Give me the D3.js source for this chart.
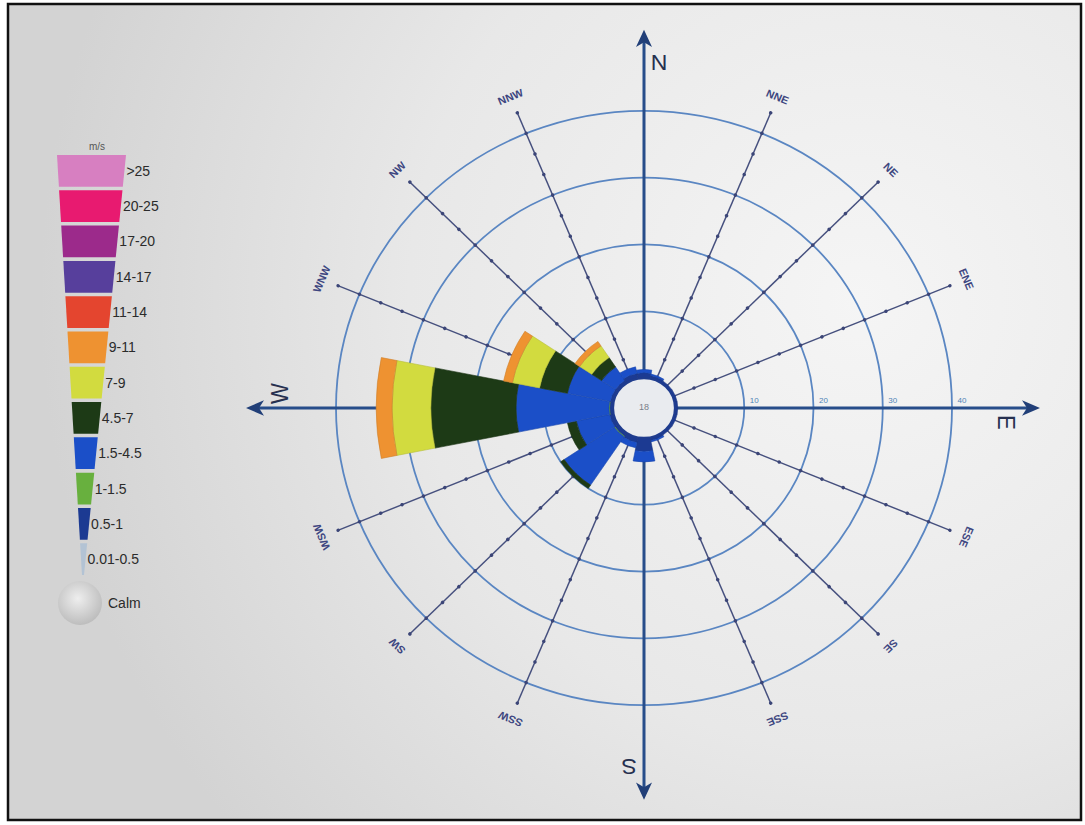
<!DOCTYPE html>
<html>
<head>
<meta charset="utf-8">
<script src="https://cdn.jsdelivr.net/npm/d3@7"></script>
<style>
  html, body { margin: 0; padding: 0; background: #ffffff; }
  svg { display: block; font-family: "Liberation Sans", Arial, sans-serif; }
</style>
</head>
<body>
<svg id="chart" width="1085" height="825"></svg>
<script>
// Compass sectors, clockwise from north
const directions = ["N","NNE","NE","ENE","E","ESE","SE","SSE","S","SSW","SW","WSW","W","WNW","NW","NNW"];

// Legend speed classes (m/s), top to bottom, and their colours
const speedBins  = [">25","20-25","17-20","14-17","11-14","9-11","7-9","4.5-7","1.5-4.5","1-1.5","0.5-1","0.01-0.5"];
const binColors  = ["#d77fc1","#e81a70","#9c2a8b","#573f9c","#e4452f","#ee9231","#d2db3f","#1d3a16","#1b4fc8","#68b03e","#1c3a92","#b3c3d4"];

// Frequency (%) per sector for each speed class that occurs
const freq_05_1  = [0.8,0.5,0.4,0.4,0.4,0.4,0.4,0.5,2.0,0.8,0.6,0.6,0.5,0.5,0.5,0.8];
const freq_1_15  = [0.0,0.0,0.0,0.0,0.0,0.0,0.0,0.0,0.0,0.0,0.1,0.0,0.1,0.0,0.0,0.0];
const freq_15_45 = [0.5,0.2,0.0,0.0,0.0,0.0,0.0,0.2,1.6,0.8,8.7,4.9,13.4,6.3,2.4,1.0];
const freq_45_7  = [0.0,0.0,0.0,0.0,0.0,0.0,0.0,0.0,0.0,0.0,0.6,1.3,12.3,4.1,1.7,0.0];
const freq_7_9   = [0.0,0.0,0.0,0.0,0.0,0.0,0.0,0.0,0.0,0.0,0.0,0.0,5.6,4.0,2.1,0.0];
const freq_9_11  = [0.0,0.0,0.0,0.0,0.0,0.0,0.0,0.0,0.0,0.0,0.0,0.0,2.3,1.3,0.8,0.0];

const calmValue  = 18;
const ringValues = [10, 20, 30, 40];

// stacking order from the centre outwards
const stackBins = ["0.5-1","1-1.5","1.5-4.5","4.5-7","7-9","9-11"];
const stackData = [freq_05_1, freq_1_15, freq_15_45, freq_45_7, freq_7_9, freq_9_11];

const svg = d3.select("#chart");
const W = 1085, H = 825;
const cx = 644, cy = 408;
const calmR = 31;
const squash = 0.965;   // the printed rose is slightly flatter vertically

const color = d3.scaleOrdinal().domain(speedBins).range(binColors);
const r = d3.scaleLinear().domain([0, 40]).range([calmR, 308]);
const angle = d3.scalePoint().domain(directions).range([0, 337.5]);
const sectorHalf = 11.25 * Math.PI / 180;

// ---- paper background and frame ----
const defs = svg.append("defs");
const bg = defs.append("radialGradient").attr("id", "paper")
  .attr("gradientUnits", "userSpaceOnUse")
  .attr("cx", 860).attr("cy", 300).attr("r", 820);
bg.append("stop").attr("offset", "0%").attr("stop-color", "#f5f5f5");
bg.append("stop").attr("offset", "55%").attr("stop-color", "#e8e8e8");
bg.append("stop").attr("offset", "100%").attr("stop-color", "#d3d3d3");

const calmGrad = defs.append("radialGradient").attr("id", "calmGrad")
  .attr("cx", "45%").attr("cy", "40%").attr("r", "65%");
calmGrad.append("stop").attr("offset", "0%").attr("stop-color", "#eeeeee");
calmGrad.append("stop").attr("offset", "100%").attr("stop-color", "#b9b9b9");

svg.append("rect").attr("x", 0).attr("y", 0).attr("width", W).attr("height", H).attr("fill", "#ffffff");
svg.append("rect").attr("x", 8).attr("y", 4).attr("width", 1073).attr("height", 816)
  .attr("fill", "url(#paper)").attr("stroke", "#111").attr("stroke-width", 2.5);

// ---- rose ----
const g = svg.append("g").attr("transform", `translate(${cx},${cy}) scale(1,${squash})`);

// rings
g.selectAll("circle.ring").data(ringValues).join("circle")
  .attr("class", "ring")
  .attr("r", d => r(d))
  .attr("fill", "none")
  .attr("stroke", "#5a86c2")
  .attr("stroke-width", 1.8);

// spokes for the twelve minor sectors
const cardinals = ["N","E","S","W"];
const minor = directions.filter(d => !cardinals.includes(d));
const spokeEnd = 332;
const spoke = g.selectAll("g.spoke").data(minor).join("g")
  .attr("class", "spoke")
  .attr("transform", d => `rotate(${angle(d)})`);
spoke.append("line")
  .attr("x1", 0).attr("y1", -calmR).attr("x2", 0).attr("y2", -spokeEnd)
  .attr("stroke", "#46507e").attr("stroke-width", 1.5);
const tickVals = d3.range(10 / 3, 43.4, 10 / 3);
spoke.selectAll("circle").data(tickVals).join("circle")
  .attr("cx", 0).attr("cy", v => -r(v)).attr("r", 1.8)
  .attr("fill", "#3b4577");
spoke.append("text")
  .attr("x", 0).attr("y", -348)
  .attr("text-anchor", "middle").attr("dominant-baseline", "middle")
  .attr("font-size", 11).attr("font-weight", "bold")
  .attr("fill", "#3d4680")
  .text(d => d);

// main axes with arrow heads
const axisLen = { N: 392, E: 396, S: 406, W: 398 };
const axis = g.selectAll("g.axis").data(cardinals).join("g")
  .attr("class", "axis")
  .attr("transform", d => `rotate(${angle(d)})`);
axis.append("line")
  .attr("x1", 0).attr("y1", 0).attr("x2", 0).attr("y2", d => -(axisLen[d] - 12))
  .attr("stroke", "#274d8a").attr("stroke-width", 3);
axis.append("path")
  .attr("d", d => { const L = axisLen[d]; return `M0,${-L} L8,${-L + 18} L0,${-L + 13} L-8,${-L + 18} Z`; })
  .attr("fill", "#213f78");
axis.append("text")
  .attr("x", 15).attr("y", d => -(axisLen[d] - 36))
  .attr("text-anchor", "middle").attr("dominant-baseline", "middle")
  .attr("font-size", 23).attr("fill", "#26304f")
  .text(d => d);

// ring value labels along the east axis
g.selectAll("text.ringLabel").data(ringValues).join("text")
  .attr("class", "ringLabel")
  .attr("x", d => r(d) + 10).attr("y", -5)
  .attr("text-anchor", "middle")
  .attr("font-size", 8).attr("fill", "#4f83b6")
  .text(d => d);

// stacked petals
const arc = d3.arc();
const petals = [];
directions.forEach((dir, i) => {
  let cum = 0;
  stackData.forEach((series, k) => {
    const v = series[i];
    if (v > 0) {
      petals.push({ dir, bin: stackBins[k], inner: cum, outer: cum + v });
      cum += v;
    }
  });
});
g.selectAll("path.petal").data(petals).join("path")
  .attr("class", "petal")
  .attr("d", d => {
    const a = angle(d.dir) * Math.PI / 180;
    return arc({ innerRadius: r(d.inner), outerRadius: r(d.outer),
                 startAngle: a - sectorHalf, endAngle: a + sectorHalf });
  })
  .attr("fill", d => color(d.bin))
  .attr("stroke", d => d3.color(color(d.bin)).darker(0.4))
  .attr("stroke-width", 0.6);

// calm centre
g.append("circle").attr("r", calmR)
  .attr("fill", "#e9ebef").attr("stroke", "#1f3c8e").attr("stroke-width", 2.2);
g.append("text")
  .attr("x", 0).attr("y", 0)
  .attr("text-anchor", "middle").attr("dominant-baseline", "middle")
  .attr("font-size", 9).attr("fill", "#7a7f8a")
  .text(calmValue);

// ---- legend funnel ----
const legTop = 155, legBottom = 575;
const band = d3.scaleBand().domain(speedBins).range([legTop, legBottom]).paddingInner(0.1);
const leftX  = d3.scaleLinear().domain([legTop, legBottom]).range([57, 82]);
const rightX = d3.scaleLinear().domain([legTop, legBottom]).range([126, 84]);

const legend = svg.append("g").attr("class", "legend");
legend.append("text")
  .attr("x", 97).attr("y", 150)
  .attr("text-anchor", "middle")
  .attr("font-size", 10).attr("fill", "#555")
  .text("m/s");

const items = legend.selectAll("g.item").data(speedBins).join("g").attr("class", "item");
items.append("path")
  .attr("d", d => {
    const y0 = band(d), y1 = band(d) + band.bandwidth();
    return `M${leftX(y0)},${y0} L${rightX(y0)},${y0} L${rightX(y1)},${y1} L${leftX(y1)},${y1} Z`;
  })
  .attr("fill", d => color(d));
items.append("text")
  .attr("x", d => rightX(band(d) + band.bandwidth() / 2) + 2)
  .attr("y", d => band(d) + band.bandwidth() / 2 + 5)
  .attr("font-size", 14).attr("fill", "#2b2b2b")
  .text(d => d);

legend.append("circle")
  .attr("cx", 80).attr("cy", 603).attr("r", 22)
  .attr("fill", "url(#calmGrad)");
legend.append("text")
  .attr("x", 108).attr("y", 608)
  .attr("font-size", 14).attr("fill", "#2b2b2b")
  .text("Calm");
</script>
</body>
</html>
